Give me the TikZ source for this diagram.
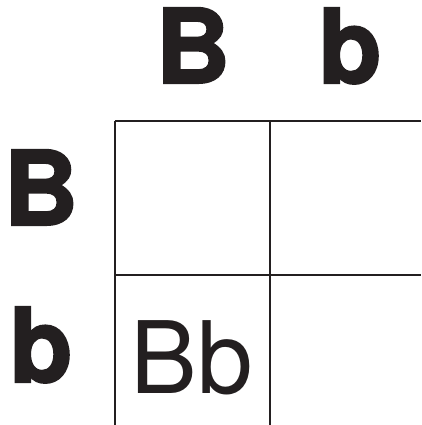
\documentclass[tikz,border=0pt]{standalone}
\usepackage{fontspec}
\setmainfont{TeX Gyre Heros}
\newfontfamily\heavyfont[FakeBold=2]{TeX Gyre Heros Bold}
\definecolor{ink}{HTML}{231F20}
\begin{document}
\begin{tikzpicture}[x=1pt,y=-1pt,
  allele/.style={anchor=base,inner sep=0pt,text=ink,font=\fontsize{103}{103}\selectfont\heavyfont},
  geno/.style={anchor=base,inner sep=0pt,text=ink,font=\fontsize{100}{100}\selectfont},
  gridline/.style={draw=ink,line width=2pt}]
\useasboundingbox (0,0) rectangle (421,425);
\node[allele] (tB) at (193,83) {B};
\node[allele] (tb) at (350,83) {b};
\node[allele] (lB) at (41,225) {B};
\node[allele] (lb) at (41,382) {b};
\node[geno] (g) at (192,393) {Bb};
\coordinate (c1) at (115,121);
\coordinate (c2) at (270,121);
\coordinate (c3) at (421,121);
\coordinate (m1) at (115,275);
\coordinate (m3) at (421,275);
\coordinate (b1) at (115,425);
\coordinate (b2) at (270,425);
\draw[gridline] (c1) -- (c3);
\draw[gridline] (m1) -- (m3);
\draw[gridline] (c1) -- (b1);
\draw[gridline] (c2) -- (b2);
\end{tikzpicture}
\end{document}
